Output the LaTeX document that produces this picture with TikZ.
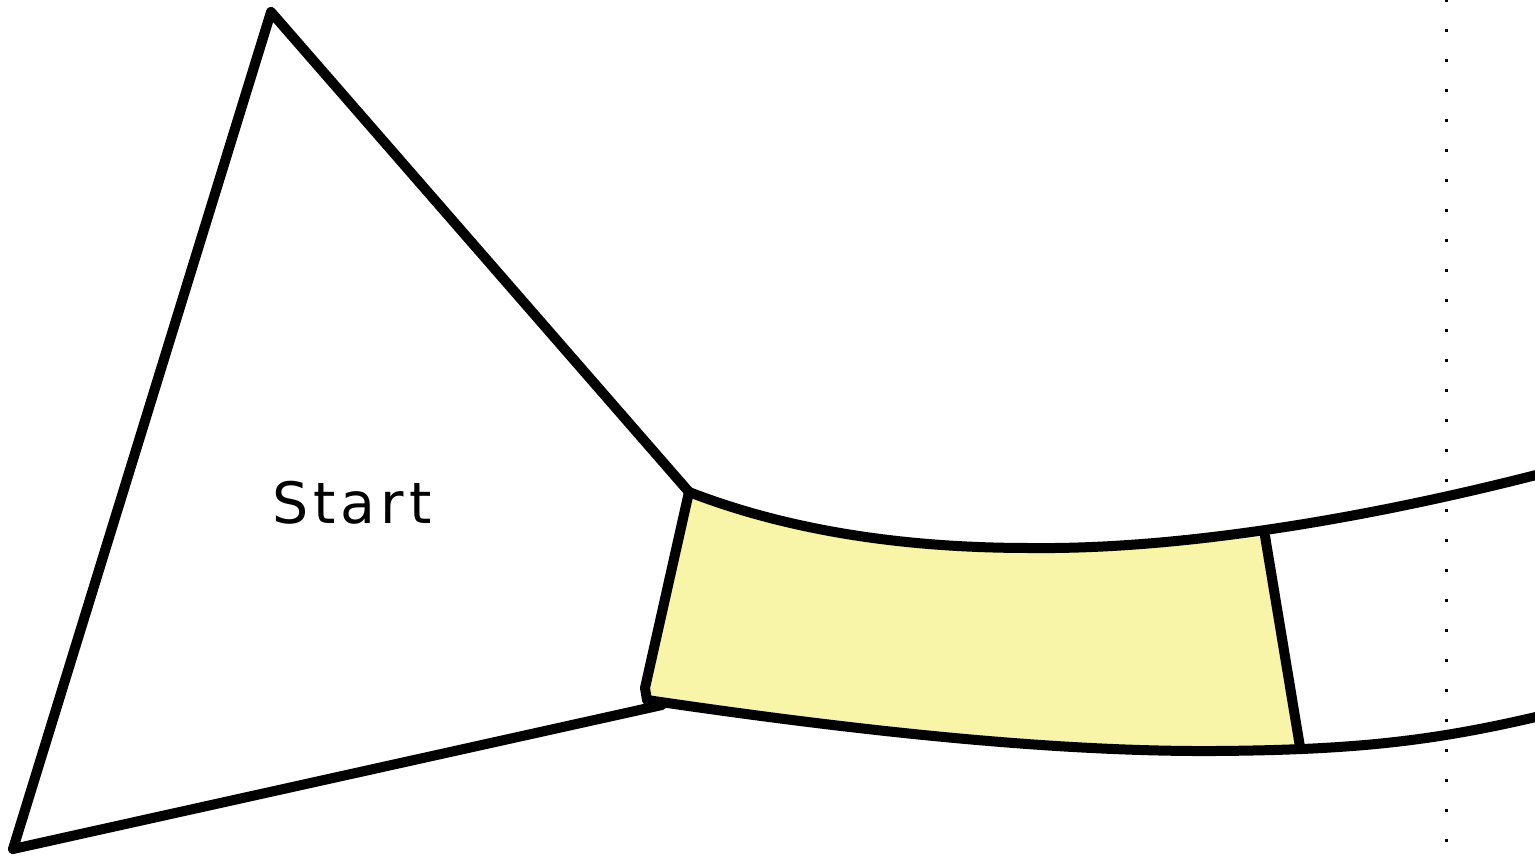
\documentclass[tikz,border=0pt]{standalone}
\usepackage{fontspec}
\newfontfamily\labelfont[LetterSpace=9]{DejaVu Sans}
\definecolor{lane}{HTML}{F8F4A8}
\begin{document}
\begin{tikzpicture}[x=0.5pt,y=-0.5pt,
  edge/.style={line width=5pt,line join=round,line cap=round},
  guide/.style={line width=1.5pt,dash pattern=on 1.5pt off 13.5pt}]
\useasboundingbox (0,0) rectangle (1535,861);
\coordinate (tl) at (689,492);
\coordinate (bl) at (647,700);
\coordinate (bk) at (645,688);
\coordinate (tr) at (1265,536);
\coordinate (br) at (1300,747);
\coordinate (top) at (271,12);
\coordinate (left) at (13,849);
\coordinate (bj) at (662,705);
% yellow lane segment
\fill[lane] (tl) .. controls (800,535) and (920,548) .. (1030,548)
  .. controls (1120,549) and (1200,545) .. (tr) -- (br)
  .. controls (1260,749) and (1240,751) .. (1215,751)
  .. controls (1050,752) and (850,730) .. (bl) -- (bk) -- cycle;
% triangle
\draw[edge] (tl) -- (top) -- (left) -- (bj);
% lane edges
\draw[edge] (tl) .. controls (800,535) and (920,548) .. (1030,548)
  .. controls (1200,550) and (1400,510) .. (1540,474);
\draw[edge] (bl) .. controls (850,730) and (1050,752) .. (1215,751)
  .. controls (1350,750) and (1430,742) .. (1540,716);
\draw[edge] (tl) -- (bk) -- (bl);
\draw[edge] (tr) -- (br);
% dotted guide
\coordinate (g1) at (1446,-0.75);
\coordinate (g2) at (1446,850);
\draw[guide] (g1) -- (g2);
\node[font=\labelfont\fontsize{28.5}{32}\selectfont] (start) at (352,503) {Start};
\end{tikzpicture}
\end{document}
